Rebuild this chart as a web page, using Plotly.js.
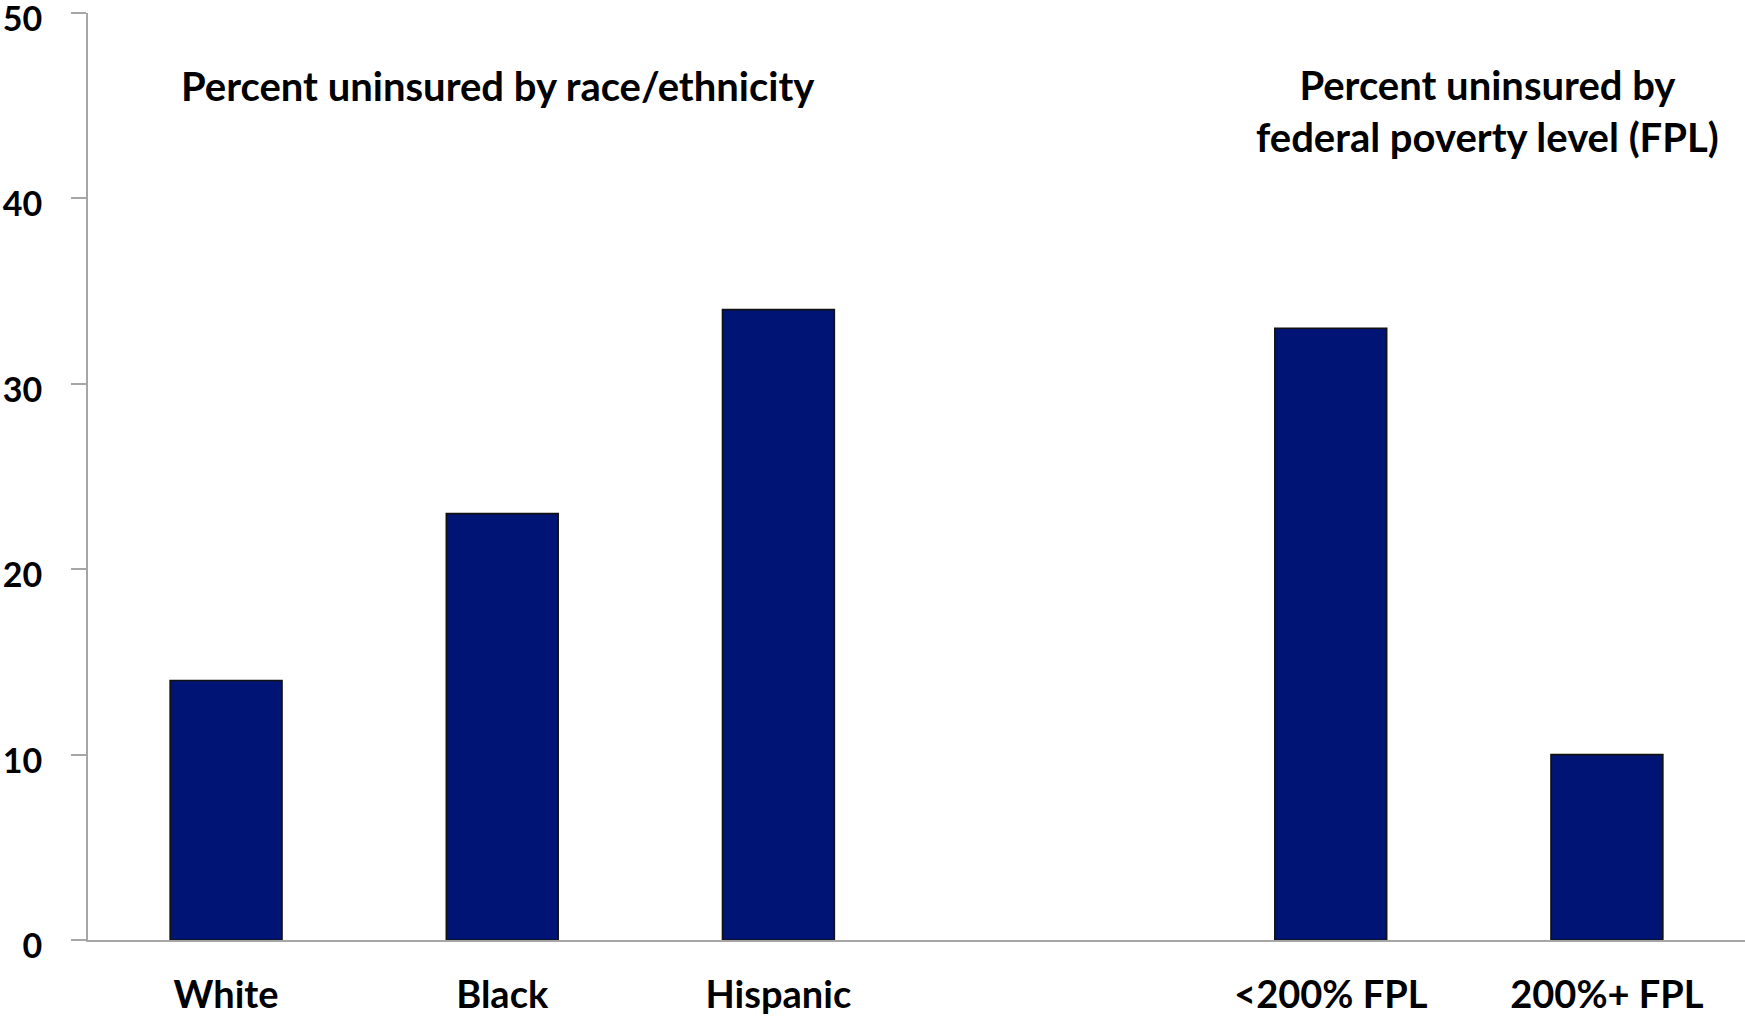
<!DOCTYPE html>
<html>
<head>
<meta charset="utf-8">
<script src="https://cdn.plot.ly/plotly-3.0.1.min.js"></script>
<style>
  html, body { margin: 0; padding: 0; background: #ffffff; }
  #chart { width: 1745px; height: 1018px; }
</style>
</head>
<body>
<div id="chart"></div>
<script>
// Percent uninsured, by race/ethnicity and by federal poverty level
const raceGroups = ['White', 'Black', 'Hispanic'];
const raceValues = [14, 23, 34];
const fplGroups = ['<200% FPL', '200%+ FPL'];
const fplValues = [33, 10];
const spacer = ' ';
const yTicks = [0, 10, 20, 30, 40, 50];
const raceTitle = 'Percent uninsured by race/ethnicity';
const fplTitle = 'Percent uninsured by<br>federal poverty level (FPL)';

// one empty slot separates the two groups
const categories = raceGroups.concat([spacer], fplGroups);
const values = raceValues.concat([null], fplValues);

const family = 'Lato, "Open Sans", sans-serif';
const titleFont = { family: family, size: 40, color: '#000000', weight: 700 };
const xTickFont = { family: family, size: 38, color: '#000000', weight: 700 };
const yTickFont = { family: family, size: 34, color: '#000000', weight: 700 };
const axisGray = '#a6a6a6';

const trace = {
  type: 'bar',
  x: categories,
  y: values,
  marker: { color: '#001476', line: { color: '#111111', width: 1.6 } },
  hoverinfo: 'x+y'
};

const layout = {
  width: 1745,
  height: 1018,
  margin: { l: 88, r: 0, t: 13, b: 78, pad: 0 },
  paper_bgcolor: '#ffffff',
  plot_bgcolor: '#ffffff',
  showlegend: false,
  bargap: 0.595,
  xaxis: {
    type: 'category',
    categoryorder: 'array',
    categoryarray: categories,
    range: [-0.5, categories.length - 0.5],
    showline: true,
    linecolor: axisGray,
    linewidth: 2,
    ticks: '',
    showgrid: false,
    zeroline: false,
    tickfont: xTickFont,
    ticklabelstandoff: 20,
    ticklabeloverflow: 'allow',
    fixedrange: true
  },
  yaxis: {
    range: [0, 50],
    tickvals: yTicks,
    ticks: 'outside',
    ticklen: 15,
    tickwidth: 2,
    tickcolor: axisGray,
    showline: true,
    linecolor: axisGray,
    linewidth: 2,
    showgrid: false,
    zeroline: false,
    tickfont: yTickFont,
    ticklabelstandoff: 22,
    ticklabelshift: 6,
    ticklabeloverflow: 'allow',
    fixedrange: true
  },
  annotations: [
    {
      text: raceTitle,
      xref: 'paper', yref: 'paper',
      x: 0.2474, y: 0.9216,
      xanchor: 'center', yanchor: 'middle',
      showarrow: false,
      font: titleFont
    },
    {
      text: fplTitle,
      xref: 'paper', yref: 'paper',
      x: 0.8443, y: 0.894,
      xanchor: 'center', yanchor: 'middle',
      showarrow: false,
      font: titleFont
    }
  ]
};

Plotly.newPlot('chart', [trace], layout, { displayModeBar: false, staticPlot: true });
</script>
</body>
</html>
